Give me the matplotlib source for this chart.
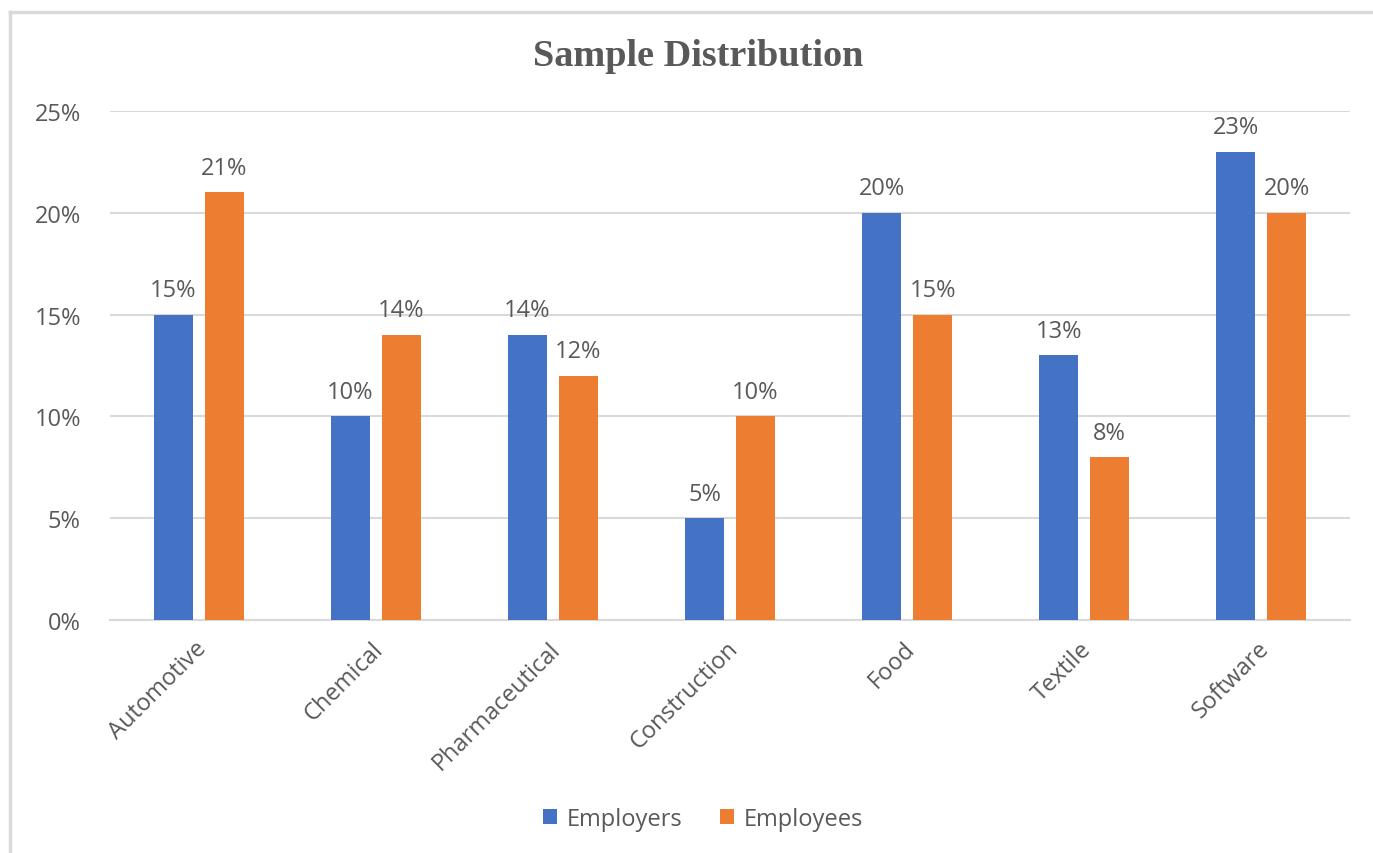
import matplotlib
matplotlib.use("Agg")
import matplotlib.pyplot as plt
import numpy as np
from matplotlib.lines import Line2D
from matplotlib.patches import Patch

categories = ["Automotive", "Chemical", "Pharmaceutical", "Construction", "Food", "Textile", "Software"]
employers = [15, 10, 14, 5, 20, 13, 23]
employees = [21, 14, 12, 10, 15, 8, 20]
series_names = ["Employers", "Employees"]
yticks = [0, 5, 10, 15, 20, 25]

BLUE = "#4472C4"
ORANGE = "#ED7D31"
TXT = "#595959"
GRID = "#D9D9D9"
FONT = ["Open Sans", "DejaVu Sans"]
FS = 17

fig = plt.figure(figsize=(13.73, 8.54), dpi=100)
ax = fig.add_axes([110/1373, 1-621/854, 1240/1373, 509/854])

x = np.arange(len(categories))
w = 0.22
off = 0.144
b1 = ax.bar(x - off, employers, width=w, color=BLUE, zorder=3, label=series_names[0])
b2 = ax.bar(x + off, employees, width=w, color=ORANGE, zorder=3, label=series_names[1])

for bars, vals in ((b1, employers), (b2, employees)):
    for r, v in zip(bars, vals):
        ax.annotate(f"{v}%", (r.get_x() + r.get_width()/2, v), xytext=(0, 9),
                    textcoords="offset points", ha="center", va="bottom",
                    fontsize=FS, color=TXT, family=FONT)

ax.set_xlim(-0.5, len(categories) - 0.5)
ax.set_ylim(0, 25)
ax.set_yticks(yticks)
ax.set_yticklabels([f"{t}%" for t in yticks], fontsize=FS, color=TXT, family=FONT)
ax.yaxis.grid(True, color=GRID, linewidth=1.5, zorder=0)
ax.set_axisbelow(True)
ax.tick_params(axis="y", length=0, pad=21)
ax.tick_params(axis="x", length=0, pad=18)
ax.set_xticks(x)
ax.set_xticklabels(categories, rotation=45, ha="right", va="center", rotation_mode="anchor",
                   fontsize=FS, color=TXT, family=FONT)
for lab in ax.get_xticklabels():
    lab.set_transform(lab.get_transform() + matplotlib.transforms.ScaledTranslation(4/100, 0, fig.dpi_scale_trans))
for s in ["top", "right", "left"]:
    ax.spines[s].set_visible(False)
ax.spines["bottom"].set_color(GRID)
ax.spines["bottom"].set_linewidth(1.5)

fig.text(698/1373, 1-57/854, "Sample Distribution", ha="center", va="center",
         fontsize=27.5, fontweight="bold", color=TXT, family=["Liberation Serif", "DejaVu Serif"])

handles = [Patch(facecolor=BLUE), Patch(facecolor=ORANGE)]
fig.legend(handles, series_names, loc="center", bbox_to_anchor=(703/1373, 1-820/854),
           ncol=2, frameon=False, prop={"family": FONT, "size": FS},
           labelcolor=TXT, handlelength=0.6, handleheight=0.6, handletextpad=0.4, columnspacing=1.6)

# outer frame (partially visible in reference)
fig.add_artist(Line2D([10/1373, 10/1373], [0, 1-13/854], transform=fig.transFigure, color="#D9D9D9", lw=2.5))
fig.add_artist(Line2D([10/1373, 1], [1-13/854, 1-13/854], transform=fig.transFigure, color="#D9D9D9", lw=2.5))

fig.savefig("out.png", dpi=100, facecolor="white")
